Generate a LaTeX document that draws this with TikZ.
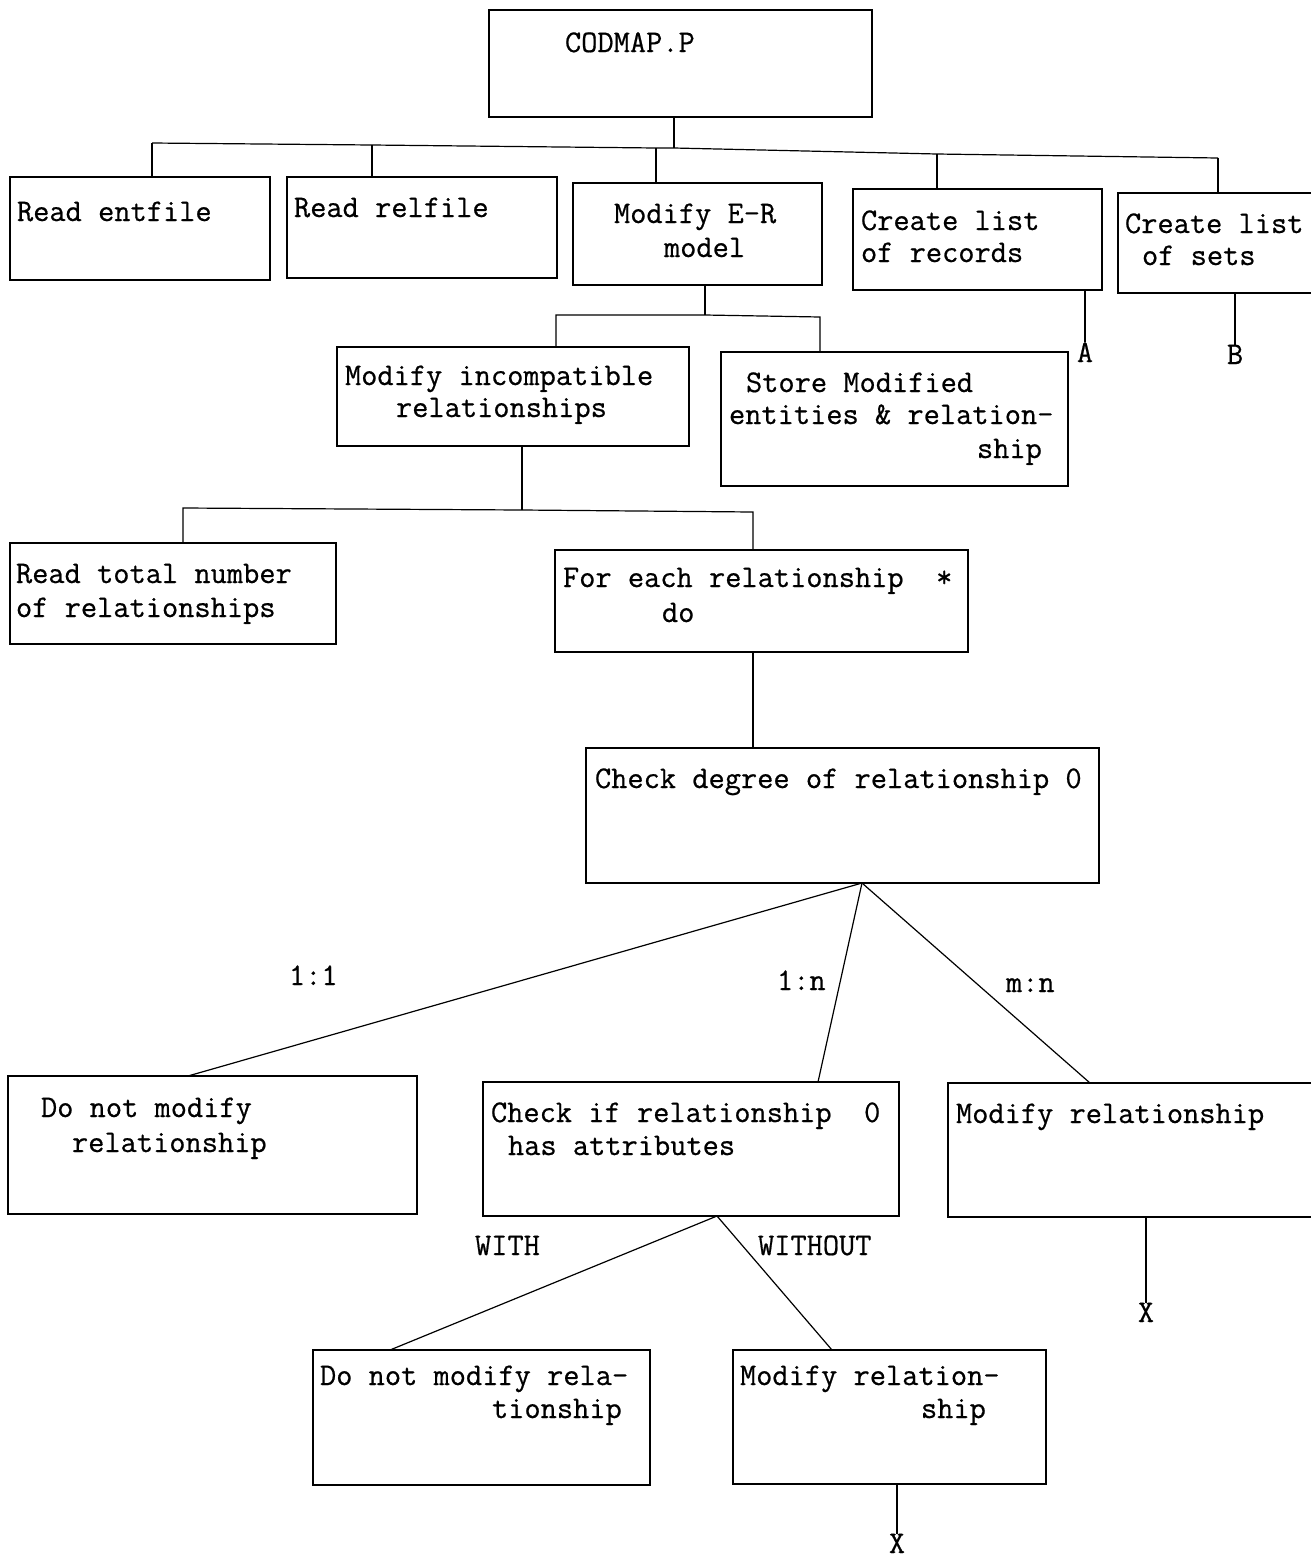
\documentclass[tikz,border=0pt]{standalone}
\usepackage{fontspec}
\newfontfamily\diagmono[FakeBold=0.6]{Latin Modern Mono}
\tikzset{
  box/.style={draw, line width=1.3pt, inner sep=0pt, outer sep=0pt},
  txt/.style={anchor=base west, inner sep=0pt, outer sep=0pt, font=\diagmono\fontsize{31.5}{33}\selectfont},
  lbl/.style={txt, anchor=base},
  conn/.style={line width=1.2pt},
}
\newcommand\mybox[5]{\node[box, minimum width={(#4-#2)*1pt}, minimum height={(#5-#3)*1pt}] (#1) at ({(#2+#4)/2},{(#3+#5)/2}) {};}
\newcommand\putline[4]{\node[txt] (#1) at (#2,#3) {#4};}
\begin{document}
\begin{tikzpicture}[x=1pt,y=-1pt]
\useasboundingbox (0,0) rectangle (1311,1559);
% boxes
\mybox{cod}{489}{10}{872}{117}
\mybox{re}{10}{177}{270}{280}
\mybox{rr}{287}{177}{557}{278}
\mybox{mer}{573}{183}{822}{285}
\mybox{clr}{853}{189}{1102}{290}
\mybox{cls}{1118}{193}{1325}{293}
\mybox{mi}{337}{347}{689}{446}
\mybox{smd}{721}{352}{1068}{486}
\mybox{rtn}{10}{543}{336}{644}
\mybox{fe}{555}{550}{968}{652}
\mybox{cdeg}{586}{748}{1099}{883}
\mybox{dnm}{8}{1076}{417}{1214}
\mybox{cia}{483}{1082}{899}{1216}
\mybox{mr}{948}{1083}{1325}{1217}
\mybox{dnmb}{313}{1350}{650}{1485}
\mybox{mrb}{733}{1350}{1046}{1484}
% texts
\putline{t1}{565}{52}{CODMAP.P}
\putline{t2}{17}{221}{Read entfile}
\putline{t3}{294}{217}{Read relfile}
\putline{t4a}{614}{223}{Modify E-R}
\putline{t4b}{664}{257}{model}
\putline{t5a}{861}{230}{Create list}
\putline{t5b}{861}{262}{of records}
\putline{t6a}{1125}{233}{Create list}
\putline{t6b}{1142}{265}{of sets}
\putline{t7a}{345}{385}{Modify incompatible}
\putline{t7b}{396}{417}{relationships}
\putline{t8a}{746}{392}{Store Modified}
\putline{t8b}{729}{424}{entities \& relation-}
\putline{t8c}{977}{458}{ship}
\putline{t9a}{16}{583}{Read total number}
\putline{t9b}{16}{617}{of relationships}
\putline{t10a}{563}{587}{For each relationship\ \ *}
\putline{t10b}{662}{622}{do}
\putline{t11}{595}{788}{Check degree of relationship 0}
\putline{t12a}{41}{1117}{Do not modify}
\putline{t12b}{72}{1152}{relationship}
\putline{t13a}{491}{1122}{Check if relationship\ \ 0}
\putline{t13b}{508}{1155}{has attributes}
\putline{t14}{956}{1123}{Modify relationship}
\putline{t15a}{320}{1385}{Do not modify rela-}
\putline{t15b}{492}{1418}{tionship}
\putline{t16a}{740}{1385}{Modify relation-}
\putline{t16b}{921}{1418}{ship}
\putline{l11}{289}{985}{1:1}
\putline{l1n}{777}{990}{1:n}
\putline{lmn}{1006}{992}{m:n}
\putline{lwith}{475}{1255}{WITH}
\putline{lwithout}{758}{1255}{WITHOUT}
\node[lbl] (la) at (1085,362) {A};
\node[lbl] (lb) at (1235,364) {B};
\node[lbl] (lx1) at (1146,1322) {X};
\node[lbl] (lx2) at (897,1553) {X};
% level 1 connectors
\coordinate (j1) at (152,143);
\coordinate (j2) at (372,145);
\coordinate (j3) at (656,148);
\coordinate (jr) at (674,148);
\coordinate (j4) at (937,154);
\coordinate (j5) at (1218,158);
\draw[conn] (cod.south -| jr) -- (jr);
\draw[conn] (j1) -- (j2) -- (j3) -- (jr) -- (j4) -- (j5);
\draw[conn] (j1) -- (j1 |- re.north);
\draw[conn] (j2) -- (j2 |- rr.north);
\draw[conn] (j3) -- (j3 |- mer.north);
\draw[conn] (j4) -- (j4 |- clr.north);
\draw[conn] (j5) -- (j5 |- cls.north);
% A and B
\draw[conn] (clr.south -| la) -- (la.north);
\draw[conn] (cls.south -| lb) -- (lb.north);
% level 2
\coordinate (jm) at (705,315);
\coordinate (jm1) at (556,315);
\coordinate (jm2) at (820,317);
\draw[conn] (mer.south -| jm) -- (jm);
\draw[conn] (jm1 |- mi.north) -- (jm1) -- (jm) -- (jm2) -- (jm2 |- smd.north);
% level 3
\coordinate (ji) at (522,510);
\coordinate (ji1) at (183,508);
\coordinate (ji2) at (753,512);
\draw[conn] (mi.south -| ji) -- (ji);
\draw[conn] (ji1 |- rtn.north) -- (ji1) -- (ji) -- (ji2) -- (ji2 |- fe.north);
% for each -> check degree
\coordinate (jf) at (753,700);
\draw[conn] (fe.south -| jf) -- (cdeg.north -| jf);
% degree branches
\coordinate (pd) at (862,0);
\coordinate (q1) at (188,0);
\coordinate (q2) at (818,0);
\coordinate (q3) at (1090,0);
\draw[conn] (cdeg.south -| pd) -- (dnm.north -| q1);
\draw[conn] (cdeg.south -| pd) -- (cia.north -| q2);
\draw[conn] (cdeg.south -| pd) -- (mr.north -| q3);
% attributes branches
\coordinate (pa) at (717,0);
\coordinate (r1) at (390,0);
\coordinate (r2) at (832,0);
\draw[conn] (cia.south -| pa) -- (dnmb.north -| r1);
\draw[conn] (cia.south -| pa) -- (mrb.north -| r2);
% X links
\draw[conn] (mr.south -| lx1) -- (lx1.north);
\draw[conn] (mrb.south -| lx2) -- (lx2.north);
\end{tikzpicture}
\end{document}
